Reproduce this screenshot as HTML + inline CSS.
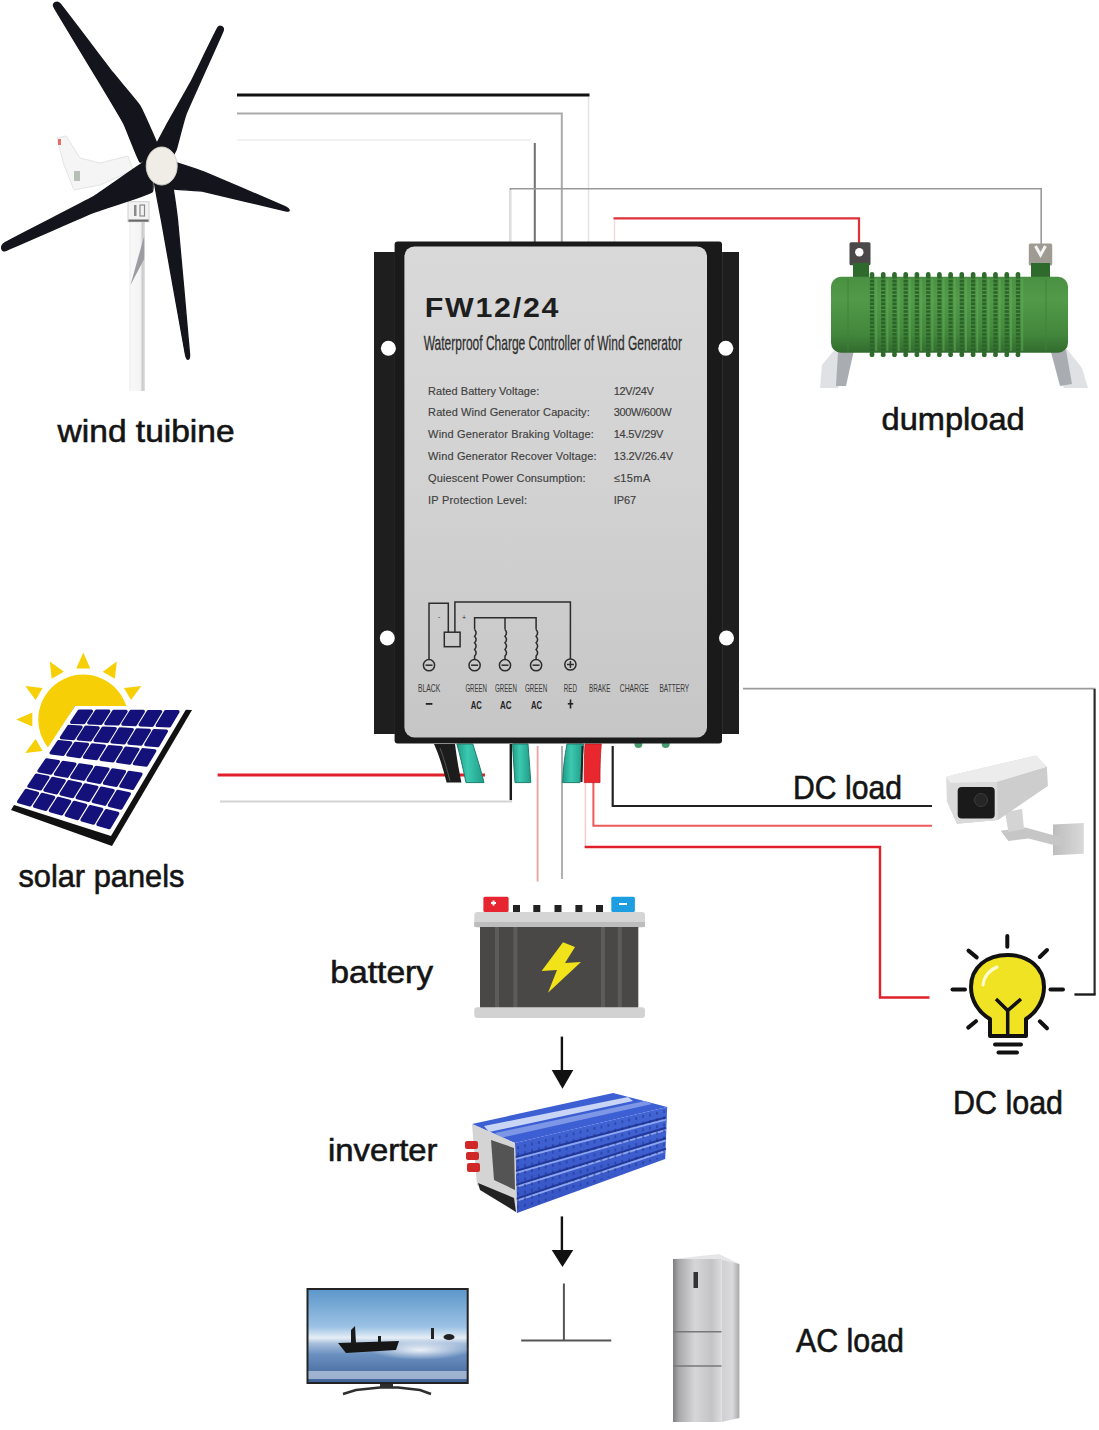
<!DOCTYPE html>
<html><head><meta charset="utf-8"><style>html,body{margin:0;padding:0;background:#fff;overflow:hidden;}svg{display:block}</style></head>
<body><svg width="1099" height="1430" viewBox="0 0 1099 1430">
<rect width="1099" height="1430" fill="#fff"/>
<line x1="237" y1="95" x2="589.5" y2="95" stroke="#111" stroke-width="2.8"/>
<line x1="588.5" y1="97" x2="588.5" y2="242" stroke="#e4e4e4" stroke-width="1.6"/>
<polyline points="237,113.6 561.8,113.6 561.8,242" fill="none" stroke="#aaa" stroke-width="2"/>
<line x1="237" y1="140" x2="531" y2="140" stroke="#ececec" stroke-width="1.6"/>
<line x1="534.8" y1="143" x2="534.8" y2="242" stroke="#707070" stroke-width="2"/>
<polyline points="510.4,242 510.4,188.8 1041.2,188.8 1041.2,250" fill="none" stroke="#999" stroke-width="1.6"/>
<line x1="510.4" y1="190" x2="510.4" y2="242" stroke="#e2e2e2" stroke-width="1.6"/>
<polyline points="613.5,218.4 859,218.4 859,250" fill="none" stroke="#e0303a" stroke-width="2.2"/>
<line x1="614.5" y1="220" x2="614.5" y2="242" stroke="#f4dada" stroke-width="1.4"/>
<polyline points="743,688.6 1094.6,688.6 1094.6,994.5 1074.5,994.5" fill="none" stroke="#9a9a9a" stroke-width="1.8"/>
<line x1="1094.6" y1="689" x2="1094.6" y2="994.5" stroke="#2a2a2a" stroke-width="2"/>
<line x1="1074.5" y1="994.5" x2="1095.6" y2="994.5" stroke="#1a1a1a" stroke-width="2.2"/>
<line x1="217.6" y1="775" x2="485" y2="775" stroke="#e0202a" stroke-width="3"/>
<polyline points="220,801.5 511,801.5 511,744" fill="none" stroke="#d4d4d4" stroke-width="2.2"/>
<line x1="510.8" y1="744" x2="510.8" y2="800" stroke="#1a1a1a" stroke-width="2.4"/>
<line x1="537.6" y1="746" x2="537.6" y2="881.5" stroke="#f0a0a0" stroke-width="1.8"/>
<line x1="562" y1="746" x2="562" y2="879" stroke="#a8a8a8" stroke-width="1.8"/>
<polyline points="612.7,746 612.7,806 932,806" fill="none" stroke="#222" stroke-width="2.2"/>
<polyline points="593.4,782 593.4,825.8 932,825.8" fill="none" stroke="#ee5a5a" stroke-width="2"/>
<line x1="585.4" y1="782" x2="585.4" y2="847" stroke="#f6caca" stroke-width="1.4"/>
<polyline points="584.7,847 880,847 880,997.5 929.5,997.5" fill="none" stroke="#e0202a" stroke-width="2.4"/>
<line x1="561.9" y1="1036.6" x2="561.9" y2="1072" stroke="#111" stroke-width="2.4"/>
<polygon points="551.7,1070 573.3,1070 562.5,1088.8" fill="#111"/>
<line x1="561.9" y1="1216.4" x2="561.9" y2="1251" stroke="#111" stroke-width="2.4"/>
<polygon points="551.7,1250 573.3,1250 562.5,1266.9" fill="#111"/>
<polyline points="563.9,1283.5 563.9,1340.6" fill="none" stroke="#555" stroke-width="2"/>
<line x1="521.2" y1="1340.6" x2="611.3" y2="1340.6" stroke="#555" stroke-width="2"/>
<defs><linearGradient id="tow" x1="0" y1="0" x2="1" y2="0"><stop offset="0" stop-color="#ececec"/><stop offset="0.15" stop-color="#f8f8f8"/><stop offset="0.7" stop-color="#f4f4f4"/><stop offset="0.85" stop-color="#c8c8c8"/><stop offset="1" stop-color="#e4e4e4"/></linearGradient></defs>
<rect x="129.4" y="220" width="15.6" height="171" fill="url(#tow)"/>
<polygon points="144.2,236 144.2,259 130.5,285" fill="#9c9ca2"/>
<rect x="128" y="201.7" width="21" height="20" fill="#f2f2f2" stroke="#cfcfcf" stroke-width="1"/>
<rect x="128.5" y="219.5" width="20" height="2.2" fill="#6a6a6a"/>
<rect x="134" y="205" width="2.5" height="11" fill="#8a8a8a"/><rect x="140" y="205" width="4.5" height="11" fill="none" stroke="#8a8a8a" stroke-width="1.2"/>
<polygon points="57,138 66,136 80,158 100,163 128,156 133,170 100,185 74,190 64,165" fill="#f5f5f5" stroke="#e4e4e4" stroke-width="1"/>
<rect x="58" y="139" width="3" height="6" fill="#e07070"/>
<rect x="74" y="171" width="6" height="10" fill="#7a8a7a" opacity="0.5"/>
<path d="M54.0,7.0 C55.9,10.8 94.5,74.2 98.0,80.0 C101.5,85.8 121.9,119.9 124.0,124.0 C126.1,128.1 138.2,160.6 140.0,162.0 C141.8,163.4 160.0,154.8 160.0,152.0 C160.0,149.2 142.4,110.0 140.0,106.0 C137.6,102.0 116.8,77.9 112.8,72.8 C108.8,67.7 62.9,7.1 60.0,3.8 C57.1,0.5 52.1,3.2 54.0,7.0Z" fill="#14141c" stroke="#14141c" stroke-width="1.4" stroke-linejoin="round"/>
<path d="M218.0,27.5 C216.4,30.0 193.5,77.1 191.0,81.9 C188.5,86.7 169.2,120.3 167.4,123.7 C165.6,127.1 154.1,147.9 154.0,150.0 C153.9,152.1 164.9,165.0 166.0,165.0 C167.1,165.0 175.0,152.6 176.0,150.0 C177.0,147.4 183.7,120.0 186.0,114.0 C188.3,108.0 221.4,35.3 223.0,31.0 C224.6,26.7 219.6,25.0 218.0,27.5Z" fill="#14141c" stroke="#14141c" stroke-width="1.4" stroke-linejoin="round"/>
<path d="M165.0,160.0 C166.8,159.2 198.3,169.8 204.3,172.2 C210.3,174.5 281.4,205.1 285.5,207.0 C289.6,208.9 290.6,211.8 286.5,211.0 C282.4,210.2 210.2,192.7 204.3,191.5 C198.4,190.3 170.0,189.6 168.0,188.0 C166.0,186.4 163.2,160.8 165.0,160.0Z" fill="#14141c" stroke="#14141c" stroke-width="1.4" stroke-linejoin="round"/>
<path d="M154.0,178.0 C153.5,180.1 159.9,211.6 161.5,220.4 C163.1,229.2 184.1,347.8 185.5,354.5 C186.9,361.2 189.9,360.7 189.5,354.0 C189.1,347.3 178.4,229.2 177.5,220.4 C176.6,211.6 172.2,180.1 171.0,178.0 C169.8,175.9 154.5,175.9 154.0,178.0Z" fill="#14141c" stroke="#14141c" stroke-width="1.4" stroke-linejoin="round"/>
<path d="M148.0,160.0 C145.0,160.3 100.0,193.0 92.8,197.2 C85.6,201.3 8.9,240.3 4.5,243.0 C0.1,245.7 1.1,252.0 5.5,250.5 C9.9,249.0 85.5,215.6 92.8,212.7 C100.1,209.8 149.2,194.6 152.0,192.0 C154.8,189.4 151.0,159.7 148.0,160.0Z" fill="#14141c" stroke="#14141c" stroke-width="1.4" stroke-linejoin="round"/>
<ellipse cx="161.7" cy="166" rx="15.5" ry="19" fill="#efede6" stroke="#d4d2ca" stroke-width="1"/>
<polygon points="131.0,700.1 141.3,686.0 124.0,687.9" fill="#f6cf06"/>
<polygon points="114.9,678.8 116.8,661.5 102.7,671.8" fill="#f6cf06"/>
<polygon points="90.3,668.5 83.3,652.5 76.3,668.5" fill="#f6cf06"/>
<polygon points="63.9,671.8 49.8,661.5 51.7,678.8" fill="#f6cf06"/>
<polygon points="42.6,687.9 25.3,686.0 35.6,700.1" fill="#f6cf06"/>
<polygon points="32.3,712.5 16.3,719.5 32.3,726.5" fill="#f6cf06"/>
<polygon points="35.6,738.9 25.3,753.0 42.6,751.1" fill="#f6cf06"/>
<circle cx="83.3" cy="719.5" r="45" fill="#f6cf06"/>
<circle cx="83.3" cy="719.5" r="48.5" fill="none" stroke="#fff" stroke-width="3" opacity="0"/>
<polygon points="75.0,706.0 192.0,710.0 112.0,846.0 11.0,810.0" fill="#111"/>
<polygon points="75.0,706.0 188.0,706.0 111.0,836.0 11.0,804.0" fill="#fff"/>
<polygon points="79.1,711.1 91.5,711.1 83.9,722.7 71.6,722.3" fill="#14127a" stroke="#14127a" stroke-width="3.2" stroke-linejoin="round"/>
<polygon points="96.4,711.2 108.8,711.2 101.0,723.4 88.7,722.9" fill="#14127a" stroke="#14127a" stroke-width="3.2" stroke-linejoin="round"/>
<polygon points="113.7,711.3 126.1,711.3 118.2,724.0 105.8,723.6" fill="#14127a" stroke="#14127a" stroke-width="3.2" stroke-linejoin="round"/>
<polygon points="131.0,711.4 143.4,711.4 135.3,724.7 122.9,724.2" fill="#14127a" stroke="#14127a" stroke-width="3.2" stroke-linejoin="round"/>
<polygon points="148.3,711.5 160.7,711.5 152.4,725.3 140.1,724.9" fill="#14127a" stroke="#14127a" stroke-width="3.2" stroke-linejoin="round"/>
<polygon points="165.6,711.6 178.0,711.6 169.5,726.0 157.2,725.5" fill="#14127a" stroke="#14127a" stroke-width="3.2" stroke-linejoin="round"/>
<polygon points="68.8,726.4 81.1,727.0 73.5,738.6 61.4,737.6" fill="#14127a" stroke="#14127a" stroke-width="3.2" stroke-linejoin="round"/>
<polygon points="85.9,727.2 98.2,727.8 90.4,740.0 78.2,739.0" fill="#14127a" stroke="#14127a" stroke-width="3.2" stroke-linejoin="round"/>
<polygon points="103.0,728.1 115.2,728.7 107.3,741.4 95.1,740.4" fill="#14127a" stroke="#14127a" stroke-width="3.2" stroke-linejoin="round"/>
<polygon points="120.0,728.9 132.3,729.5 124.2,742.8 112.0,741.8" fill="#14127a" stroke="#14127a" stroke-width="3.2" stroke-linejoin="round"/>
<polygon points="137.1,729.8 149.4,730.4 141.0,744.2 128.9,743.2" fill="#14127a" stroke="#14127a" stroke-width="3.2" stroke-linejoin="round"/>
<polygon points="154.1,730.6 166.4,731.2 157.9,745.6 145.8,744.6" fill="#14127a" stroke="#14127a" stroke-width="3.2" stroke-linejoin="round"/>
<polygon points="58.6,741.7 70.7,742.8 63.1,754.4 51.1,752.9" fill="#14127a" stroke="#14127a" stroke-width="3.2" stroke-linejoin="round"/>
<polygon points="75.4,743.3 87.5,744.4 79.8,756.6 67.8,755.0" fill="#14127a" stroke="#14127a" stroke-width="3.2" stroke-linejoin="round"/>
<polygon points="92.3,744.9 104.4,746.0 96.4,758.7 84.4,757.2" fill="#14127a" stroke="#14127a" stroke-width="3.2" stroke-linejoin="round"/>
<polygon points="109.1,746.5 121.2,747.6 113.0,760.9 101.1,759.3" fill="#14127a" stroke="#14127a" stroke-width="3.2" stroke-linejoin="round"/>
<polygon points="125.9,748.1 138.0,749.3 129.7,763.1 117.7,761.5" fill="#14127a" stroke="#14127a" stroke-width="3.2" stroke-linejoin="round"/>
<polygon points="142.7,749.7 154.8,750.9 146.3,765.2 134.3,763.7" fill="#14127a" stroke="#14127a" stroke-width="3.2" stroke-linejoin="round"/>
<polygon points="46.5,759.8 58.4,761.6 50.8,773.2 39.0,771.0" fill="#14127a" stroke="#14127a" stroke-width="3.2" stroke-linejoin="round"/>
<polygon points="63.0,762.3 74.9,764.1 67.1,776.3 55.4,774.1" fill="#14127a" stroke="#14127a" stroke-width="3.2" stroke-linejoin="round"/>
<polygon points="79.6,764.8 91.5,766.6 83.5,779.3 71.7,777.1" fill="#14127a" stroke="#14127a" stroke-width="3.2" stroke-linejoin="round"/>
<polygon points="96.1,767.3 108.0,769.1 99.8,782.4 88.1,780.2" fill="#14127a" stroke="#14127a" stroke-width="3.2" stroke-linejoin="round"/>
<polygon points="112.6,769.8 124.5,771.6 116.2,785.4 104.4,783.2" fill="#14127a" stroke="#14127a" stroke-width="3.2" stroke-linejoin="round"/>
<polygon points="129.1,772.3 141.0,774.1 132.6,788.5 120.8,786.3" fill="#14127a" stroke="#14127a" stroke-width="3.2" stroke-linejoin="round"/>
<polygon points="36.3,775.1 48.0,777.4 40.4,789.0 28.8,786.3" fill="#14127a" stroke="#14127a" stroke-width="3.2" stroke-linejoin="round"/>
<polygon points="52.6,778.4 64.3,780.7 56.5,792.9 44.9,790.1" fill="#14127a" stroke="#14127a" stroke-width="3.2" stroke-linejoin="round"/>
<polygon points="68.9,781.6 80.6,784.0 72.6,796.7 61.0,793.9" fill="#14127a" stroke="#14127a" stroke-width="3.2" stroke-linejoin="round"/>
<polygon points="85.1,784.9 96.9,787.2 88.7,800.5 77.1,797.7" fill="#14127a" stroke="#14127a" stroke-width="3.2" stroke-linejoin="round"/>
<polygon points="101.4,788.1 113.2,790.5 104.8,804.3 93.2,801.5" fill="#14127a" stroke="#14127a" stroke-width="3.2" stroke-linejoin="round"/>
<polygon points="117.7,791.4 129.4,793.7 120.9,808.1 109.3,805.4" fill="#14127a" stroke="#14127a" stroke-width="3.2" stroke-linejoin="round"/>
<polygon points="26.1,790.4 37.6,793.3 30.0,804.9 18.6,801.6" fill="#14127a" stroke="#14127a" stroke-width="3.2" stroke-linejoin="round"/>
<polygon points="42.1,794.4 53.7,797.3 45.9,809.5 34.5,806.2" fill="#14127a" stroke="#14127a" stroke-width="3.2" stroke-linejoin="round"/>
<polygon points="58.2,798.4 69.7,801.3 61.7,814.0 50.3,810.7" fill="#14127a" stroke="#14127a" stroke-width="3.2" stroke-linejoin="round"/>
<polygon points="74.2,802.4 85.7,805.3 77.6,818.6 66.2,815.3" fill="#14127a" stroke="#14127a" stroke-width="3.2" stroke-linejoin="round"/>
<polygon points="90.2,806.5 101.8,809.3 93.5,823.2 82.0,819.9" fill="#14127a" stroke="#14127a" stroke-width="3.2" stroke-linejoin="round"/>
<polygon points="106.3,810.5 117.8,813.4 109.3,827.7 97.9,824.4" fill="#14127a" stroke="#14127a" stroke-width="3.2" stroke-linejoin="round"/>
<defs><linearGradient id="plate" x1="0" y1="0" x2="0" y2="1"><stop offset="0" stop-color="#d9d9d9"/><stop offset="0.5" stop-color="#d2d2d2"/><stop offset="1" stop-color="#c6c6c6"/></linearGradient><linearGradient id="teal" x1="0" y1="0" x2="1" y2="0"><stop offset="0" stop-color="#1f9c88"/><stop offset="0.4" stop-color="#3cc9b0"/><stop offset="1" stop-color="#1f9c88"/></linearGradient></defs>
<path d="M434,744 L455,744 C457,760 459,770 461.4,782.6 L446.6,782.6 C443,768 439,755 434,744 Z" fill="#1c1c1c"/>
<path d="M440,748 C444,758 447,770 450,781" fill="none" stroke="#555" stroke-width="1"/>
<path d="M456.9,744 L472.8,744 C477,758 481,770 484,782.6 L466,782.6 C463,768 460,755 456.9,744 Z" fill="url(#teal)" stroke="#1d7e6c" stroke-width="1"/>
<path d="M512.6,744 L528,744 C529,758 530,770 530.8,782.6 L515,782.6 C514,768 513,755 512.6,744 Z" fill="url(#teal)" stroke="#1d7e6c" stroke-width="1"/>
<path d="M567,744 L583.5,744 C582,760 581,770 580,782.6 L562.6,782.6 C563,768 565,755 567,744 Z" fill="url(#teal)" stroke="#1d7e6c" stroke-width="1"/>
<path d="M585,744 L601.3,744 C600,760 600,770 600,782.6 L584.3,782.6 C584,768 584.5,755 585,744 Z" fill="#e8282e" stroke="#c01a20" stroke-width="0.8"/>
<line x1="582.5" y1="746" x2="581.5" y2="782" stroke="#222" stroke-width="2"/>
<circle cx="638.4" cy="744" r="4" fill="#4a9a70"/><circle cx="665.7" cy="744" r="4" fill="#4a9a70"/>
<rect x="374" y="252" width="24" height="482" fill="#1e1e1e"/>
<rect x="718" y="252" width="21" height="482" fill="#1e1e1e"/>
<line x1="395" y1="252" x2="395" y2="734" stroke="#3a3a3a" stroke-width="1"/>
<line x1="722" y1="252" x2="722" y2="734" stroke="#3a3a3a" stroke-width="1"/>
<rect x="394.6" y="241.6" width="327.4" height="502" rx="3" fill="#1a1a1a"/>
<rect x="404.4" y="246.4" width="302.6" height="491" rx="10" fill="url(#plate)"/>
<circle cx="388.4" cy="348.3" r="7.5" fill="#fff"/>
<circle cx="725.8" cy="348.3" r="7.5" fill="#fff"/>
<circle cx="387.3" cy="638" r="7.5" fill="#fff"/>
<circle cx="726.5" cy="638" r="7.5" fill="#fff"/>
<polyline points="429,660 429,603.2 448.3,603.2 448.3,632.2" stroke="#2c2c2c" stroke-width="1.5" fill="none"/>
<polyline points="454.9,632.2 454.9,602 570.4,602 570.4,659" stroke="#2c2c2c" stroke-width="1.5" fill="none"/>
<rect x="444.3" y="632.2" width="15.8" height="14.5" stroke="#2c2c2c" stroke-width="1.5" fill="none"/>
<polyline points="474.6,629.6 474.6,617.7 536.1,617.7 536.1,629.6" stroke="#2c2c2c" stroke-width="1.5" fill="none"/>
<line x1="505" y1="617.7" x2="505" y2="629.6" stroke="#2c2c2c" stroke-width="1.5" fill="none"/>
<path d="M474.6,629.6 q3,3.3 0,6.6 q3,3.3 0,6.6 q3,3.3 0,6.6 q3,3.3 0,6.6 L474.6,659.4" stroke="#2c2c2c" stroke-width="1.5" fill="none"/>
<path d="M505,629.6 q3,3.3 0,6.6 q3,3.3 0,6.6 q3,3.3 0,6.6 q3,3.3 0,6.6 L505,659.4" stroke="#2c2c2c" stroke-width="1.5" fill="none"/>
<path d="M536.1,629.6 q3,3.3 0,6.6 q3,3.3 0,6.6 q3,3.3 0,6.6 q3,3.3 0,6.6 L536.1,659.4" stroke="#2c2c2c" stroke-width="1.5" fill="none"/>
<circle cx="429" cy="665.2" r="5.6" stroke="#2c2c2c" stroke-width="1.5" fill="none"/>
<line x1="425.5" y1="665.2" x2="432.5" y2="665.2" stroke="#2c2c2c" stroke-width="1.5" fill="none"/>
<circle cx="474.6" cy="665.2" r="5.6" stroke="#2c2c2c" stroke-width="1.5" fill="none"/>
<line x1="471.1" y1="665.2" x2="478.1" y2="665.2" stroke="#2c2c2c" stroke-width="1.5" fill="none"/>
<circle cx="505" cy="665.2" r="5.6" stroke="#2c2c2c" stroke-width="1.5" fill="none"/>
<line x1="501.5" y1="665.2" x2="508.5" y2="665.2" stroke="#2c2c2c" stroke-width="1.5" fill="none"/>
<circle cx="536.1" cy="665.2" r="5.6" stroke="#2c2c2c" stroke-width="1.5" fill="none"/>
<line x1="532.6" y1="665.2" x2="539.6" y2="665.2" stroke="#2c2c2c" stroke-width="1.5" fill="none"/>
<circle cx="570.4" cy="664.5" r="5.6" stroke="#2c2c2c" stroke-width="1.5" fill="none"/>
<line x1="566.9" y1="664.5" x2="573.9" y2="664.5" stroke="#2c2c2c" stroke-width="1.5" fill="none"/>
<line x1="570.4" y1="661.0" x2="570.4" y2="668.0" stroke="#2c2c2c" stroke-width="1.5" fill="none"/>
<text x="438" y="619" font-size="7" fill="#333" font-family="Liberation Sans">-</text>
<text x="462" y="620" font-size="7" fill="#333" font-family="Liberation Sans">+</text>
<text x="418" y="691.6" font-family="Liberation Sans" font-size="10.5" font-weight="normal" fill="#3a3a3a" text-anchor="start" textLength="22.3" lengthAdjust="spacingAndGlyphs" >BLACK</text>
<text x="465.4" y="691.6" font-family="Liberation Sans" font-size="10.5" font-weight="normal" fill="#3a3a3a" text-anchor="start" textLength="21.6" lengthAdjust="spacingAndGlyphs" >GREEN</text>
<text x="495" y="691.6" font-family="Liberation Sans" font-size="10.5" font-weight="normal" fill="#3a3a3a" text-anchor="start" textLength="21.9" lengthAdjust="spacingAndGlyphs" >GREEN</text>
<text x="525" y="691.6" font-family="Liberation Sans" font-size="10.5" font-weight="normal" fill="#3a3a3a" text-anchor="start" textLength="22.2" lengthAdjust="spacingAndGlyphs" >GREEN</text>
<text x="563.8" y="691.6" font-family="Liberation Sans" font-size="10.5" font-weight="normal" fill="#3a3a3a" text-anchor="start" textLength="13.2" lengthAdjust="spacingAndGlyphs" >RED</text>
<text x="589" y="691.6" font-family="Liberation Sans" font-size="10.5" font-weight="normal" fill="#3a3a3a" text-anchor="start" textLength="21.5" lengthAdjust="spacingAndGlyphs" >BRAKE</text>
<text x="619.8" y="691.6" font-family="Liberation Sans" font-size="10.5" font-weight="normal" fill="#3a3a3a" text-anchor="start" textLength="29.0" lengthAdjust="spacingAndGlyphs" >CHARGE</text>
<text x="659.4" y="691.6" font-family="Liberation Sans" font-size="10.5" font-weight="normal" fill="#3a3a3a" text-anchor="start" textLength="29.8" lengthAdjust="spacingAndGlyphs" >BATTERY</text>
<text x="470.7" y="708.7" font-family="Liberation Sans" font-size="11.5" font-weight="bold" fill="#222" text-anchor="start" textLength="11.1" lengthAdjust="spacingAndGlyphs" >AC</text>
<text x="500" y="708.7" font-family="Liberation Sans" font-size="11.5" font-weight="bold" fill="#222" text-anchor="start" textLength="11.6" lengthAdjust="spacingAndGlyphs" >AC</text>
<text x="530.9" y="708.7" font-family="Liberation Sans" font-size="11.5" font-weight="bold" fill="#222" text-anchor="start" textLength="11.1" lengthAdjust="spacingAndGlyphs" >AC</text>
<rect x="425.8" y="703" width="6.6" height="1.8" fill="#222"/>
<rect x="567.8" y="703" width="5.4" height="1.6" fill="#222"/><rect x="569.7" y="699.5" width="1.6" height="9" fill="#222"/>
<text x="0" y="0" font-family="Liberation Sans" font-size="28" font-weight="bold" fill="#1e1e1e" letter-spacing="1.6" transform="translate(424.8,317.4) scale(1.085,1)">FW12/24</text>
<text x="423.7" y="350" font-family="Liberation Sans" font-size="21" font-weight="normal" fill="#2e2e2e" text-anchor="start" textLength="258.3" lengthAdjust="spacingAndGlyphs" stroke="#2e2e2e" stroke-width="0.3" >Waterproof Charge Controller of Wind Generator</text>
<text x="428.1" y="394.6" font-family="Liberation Sans" font-size="11" font-weight="normal" fill="#404040" text-anchor="start" textLength="111.1" lengthAdjust="spacing" stroke="#404040" stroke-width="0.15" >Rated Battery Voltage:</text>
<text x="613.7" y="394.6" font-family="Liberation Sans" font-size="11" font-weight="normal" fill="#404040" text-anchor="start" textLength="40.2" lengthAdjust="spacing" stroke="#404040" stroke-width="0.15" >12V/24V</text>
<text x="428.1" y="416.4" font-family="Liberation Sans" font-size="11" font-weight="normal" fill="#404040" text-anchor="start" textLength="161.6" lengthAdjust="spacing" stroke="#404040" stroke-width="0.15" >Rated Wind Generator Capacity:</text>
<text x="613.7" y="416.4" font-family="Liberation Sans" font-size="11" font-weight="normal" fill="#404040" text-anchor="start" textLength="57.9" lengthAdjust="spacing" stroke="#404040" stroke-width="0.15" >300W/600W</text>
<text x="428.1" y="438.3" font-family="Liberation Sans" font-size="11" font-weight="normal" fill="#404040" text-anchor="start" textLength="165.7" lengthAdjust="spacing" stroke="#404040" stroke-width="0.15" >Wind Generator Braking Voltage:</text>
<text x="613.7" y="438.3" font-family="Liberation Sans" font-size="11" font-weight="normal" fill="#404040" text-anchor="start" textLength="49.7" lengthAdjust="spacing" stroke="#404040" stroke-width="0.15" >14.5V/29V</text>
<text x="428.1" y="460.1" font-family="Liberation Sans" font-size="11" font-weight="normal" fill="#404040" text-anchor="start" textLength="168.4" lengthAdjust="spacing" stroke="#404040" stroke-width="0.15" >Wind Generator Recover Voltage:</text>
<text x="613.7" y="460.1" font-family="Liberation Sans" font-size="11" font-weight="normal" fill="#404040" text-anchor="start" textLength="59.3" lengthAdjust="spacing" stroke="#404040" stroke-width="0.15" >13.2V/26.4V</text>
<text x="428.1" y="482.0" font-family="Liberation Sans" font-size="11" font-weight="normal" fill="#404040" text-anchor="start" textLength="157.5" lengthAdjust="spacing" stroke="#404040" stroke-width="0.15" >Quiescent Power Consumption:</text>
<text x="613.7" y="482.0" font-family="Liberation Sans" font-size="11" font-weight="normal" fill="#404040" text-anchor="start" textLength="36.6" lengthAdjust="spacing" stroke="#404040" stroke-width="0.15" >≤15mA</text>
<text x="428.1" y="503.8" font-family="Liberation Sans" font-size="11" font-weight="normal" fill="#404040" text-anchor="start" textLength="98.9" lengthAdjust="spacing" stroke="#404040" stroke-width="0.15" >IP Protection Level:</text>
<text x="613.7" y="503.8" font-family="Liberation Sans" font-size="11" font-weight="normal" fill="#404040" text-anchor="start" textLength="22.4" lengthAdjust="spacing" stroke="#404040" stroke-width="0.15" >IP67</text>
<defs><linearGradient id="green" x1="0" y1="0" x2="0" y2="1"><stop offset="0" stop-color="#4a9042"/><stop offset="0.3" stop-color="#529a49"/><stop offset="0.75" stop-color="#43873c"/><stop offset="1" stop-color="#316b2e"/></linearGradient><linearGradient id="foot" x1="0" y1="0" x2="1" y2="0"><stop offset="0" stop-color="#e8eaec"/><stop offset="1" stop-color="#c4c7cb"/></linearGradient></defs>
<polygon points="822,365 836,348 852,348 846,372 838,388 820,388" fill="#dfe1e4"/>
<polygon points="838,352 854,350 846,386 836,386" fill="#a9acb0"/>
<polygon points="1050,348 1066,348 1082,368 1088,388 1064,388 1058,376" fill="#dfe1e4"/>
<polygon points="1051,352 1066,350 1072,384 1060,386" fill="#a9acb0"/>
<rect x="849.5" y="242.3" width="21" height="23" rx="1.5" fill="#4a4848"/>
<circle cx="859.3" cy="252.3" r="4.2" fill="#fff"/>
<rect x="1028.8" y="243.5" width="23.4" height="22" rx="1.5" fill="#9f9a92"/>
<path d="M1035.5,246 L1040.5,255 L1045.5,246" fill="none" stroke="#f4f4f4" stroke-width="3"/>
<rect x="853" y="263" width="16" height="15" fill="#2d6a2c"/><rect x="1031" y="263" width="19" height="15" fill="#2d6a2c"/>
<rect x="831" y="276.7" width="237" height="76.1" rx="10" fill="url(#green)"/>
<line x1="848" y1="279" x2="848" y2="351" stroke="#3f8339" stroke-width="1.5" opacity="0.6"/>
<line x1="1046" y1="279" x2="1046" y2="351" stroke="#3f8339" stroke-width="1.5" opacity="0.6"/>
<line x1="872.0" y1="276" x2="872.0" y2="353" stroke="#2b6328" stroke-width="4.2" stroke-dasharray="2.6 1.2"/>
<line x1="876.2" y1="279" x2="876.2" y2="351" stroke="#63ad59" stroke-width="2" opacity="0.55"/>
<ellipse cx="872.0" cy="275" rx="2.4" ry="3" fill="#2f6b2c"/><ellipse cx="872.0" cy="354.5" rx="2.4" ry="2.6" fill="#2f6b2c"/>
<line x1="883.2" y1="276" x2="883.2" y2="353" stroke="#2b6328" stroke-width="4.2" stroke-dasharray="2.6 1.2"/>
<line x1="887.4" y1="279" x2="887.4" y2="351" stroke="#63ad59" stroke-width="2" opacity="0.55"/>
<ellipse cx="883.2" cy="275" rx="2.4" ry="3" fill="#2f6b2c"/><ellipse cx="883.2" cy="354.5" rx="2.4" ry="2.6" fill="#2f6b2c"/>
<line x1="894.5" y1="276" x2="894.5" y2="353" stroke="#2b6328" stroke-width="4.2" stroke-dasharray="2.6 1.2"/>
<line x1="898.7" y1="279" x2="898.7" y2="351" stroke="#63ad59" stroke-width="2" opacity="0.55"/>
<ellipse cx="894.5" cy="275" rx="2.4" ry="3" fill="#2f6b2c"/><ellipse cx="894.5" cy="354.5" rx="2.4" ry="2.6" fill="#2f6b2c"/>
<line x1="905.7" y1="276" x2="905.7" y2="353" stroke="#2b6328" stroke-width="4.2" stroke-dasharray="2.6 1.2"/>
<line x1="909.9" y1="279" x2="909.9" y2="351" stroke="#63ad59" stroke-width="2" opacity="0.55"/>
<ellipse cx="905.7" cy="275" rx="2.4" ry="3" fill="#2f6b2c"/><ellipse cx="905.7" cy="354.5" rx="2.4" ry="2.6" fill="#2f6b2c"/>
<line x1="916.9" y1="276" x2="916.9" y2="353" stroke="#2b6328" stroke-width="4.2" stroke-dasharray="2.6 1.2"/>
<line x1="921.1" y1="279" x2="921.1" y2="351" stroke="#63ad59" stroke-width="2" opacity="0.55"/>
<ellipse cx="916.9" cy="275" rx="2.4" ry="3" fill="#2f6b2c"/><ellipse cx="916.9" cy="354.5" rx="2.4" ry="2.6" fill="#2f6b2c"/>
<line x1="928.2" y1="276" x2="928.2" y2="353" stroke="#2b6328" stroke-width="4.2" stroke-dasharray="2.6 1.2"/>
<line x1="932.4" y1="279" x2="932.4" y2="351" stroke="#63ad59" stroke-width="2" opacity="0.55"/>
<ellipse cx="928.2" cy="275" rx="2.4" ry="3" fill="#2f6b2c"/><ellipse cx="928.2" cy="354.5" rx="2.4" ry="2.6" fill="#2f6b2c"/>
<line x1="939.4" y1="276" x2="939.4" y2="353" stroke="#2b6328" stroke-width="4.2" stroke-dasharray="2.6 1.2"/>
<line x1="943.6" y1="279" x2="943.6" y2="351" stroke="#63ad59" stroke-width="2" opacity="0.55"/>
<ellipse cx="939.4" cy="275" rx="2.4" ry="3" fill="#2f6b2c"/><ellipse cx="939.4" cy="354.5" rx="2.4" ry="2.6" fill="#2f6b2c"/>
<line x1="950.6" y1="276" x2="950.6" y2="353" stroke="#2b6328" stroke-width="4.2" stroke-dasharray="2.6 1.2"/>
<line x1="954.8" y1="279" x2="954.8" y2="351" stroke="#63ad59" stroke-width="2" opacity="0.55"/>
<ellipse cx="950.6" cy="275" rx="2.4" ry="3" fill="#2f6b2c"/><ellipse cx="950.6" cy="354.5" rx="2.4" ry="2.6" fill="#2f6b2c"/>
<line x1="961.8" y1="276" x2="961.8" y2="353" stroke="#2b6328" stroke-width="4.2" stroke-dasharray="2.6 1.2"/>
<line x1="966.0" y1="279" x2="966.0" y2="351" stroke="#63ad59" stroke-width="2" opacity="0.55"/>
<ellipse cx="961.8" cy="275" rx="2.4" ry="3" fill="#2f6b2c"/><ellipse cx="961.8" cy="354.5" rx="2.4" ry="2.6" fill="#2f6b2c"/>
<line x1="973.1" y1="276" x2="973.1" y2="353" stroke="#2b6328" stroke-width="4.2" stroke-dasharray="2.6 1.2"/>
<line x1="977.3" y1="279" x2="977.3" y2="351" stroke="#63ad59" stroke-width="2" opacity="0.55"/>
<ellipse cx="973.1" cy="275" rx="2.4" ry="3" fill="#2f6b2c"/><ellipse cx="973.1" cy="354.5" rx="2.4" ry="2.6" fill="#2f6b2c"/>
<line x1="984.3" y1="276" x2="984.3" y2="353" stroke="#2b6328" stroke-width="4.2" stroke-dasharray="2.6 1.2"/>
<line x1="988.5" y1="279" x2="988.5" y2="351" stroke="#63ad59" stroke-width="2" opacity="0.55"/>
<ellipse cx="984.3" cy="275" rx="2.4" ry="3" fill="#2f6b2c"/><ellipse cx="984.3" cy="354.5" rx="2.4" ry="2.6" fill="#2f6b2c"/>
<line x1="995.5" y1="276" x2="995.5" y2="353" stroke="#2b6328" stroke-width="4.2" stroke-dasharray="2.6 1.2"/>
<line x1="999.7" y1="279" x2="999.7" y2="351" stroke="#63ad59" stroke-width="2" opacity="0.55"/>
<ellipse cx="995.5" cy="275" rx="2.4" ry="3" fill="#2f6b2c"/><ellipse cx="995.5" cy="354.5" rx="2.4" ry="2.6" fill="#2f6b2c"/>
<line x1="1006.8" y1="276" x2="1006.8" y2="353" stroke="#2b6328" stroke-width="4.2" stroke-dasharray="2.6 1.2"/>
<line x1="1011.0" y1="279" x2="1011.0" y2="351" stroke="#63ad59" stroke-width="2" opacity="0.55"/>
<ellipse cx="1006.8" cy="275" rx="2.4" ry="3" fill="#2f6b2c"/><ellipse cx="1006.8" cy="354.5" rx="2.4" ry="2.6" fill="#2f6b2c"/>
<line x1="1018.0" y1="276" x2="1018.0" y2="353" stroke="#2b6328" stroke-width="4.2" stroke-dasharray="2.6 1.2"/>
<line x1="1022.2" y1="279" x2="1022.2" y2="351" stroke="#63ad59" stroke-width="2" opacity="0.55"/>
<ellipse cx="1018.0" cy="275" rx="2.4" ry="3" fill="#2f6b2c"/><ellipse cx="1018.0" cy="354.5" rx="2.4" ry="2.6" fill="#2f6b2c"/>
<defs><linearGradient id="camg" x1="0" y1="0" x2="1" y2="1"><stop offset="0" stop-color="#e2e2e2"/><stop offset="1" stop-color="#c8c8c8"/></linearGradient><linearGradient id="plateg" x1="0" y1="0" x2="1" y2="0"><stop offset="0" stop-color="#bdbdbd"/><stop offset="1" stop-color="#d9d9d9"/></linearGradient></defs>
<polygon points="1053,824.6 1083.8,823 1083.8,853.8 1053,855.3" fill="url(#plateg)"/>
<polygon points="1000.7,830.7 1025.3,827.6 1065.3,838.4 1063.8,847.6 1028.4,838.4 1008.4,841" fill="#c6c6c6"/>
<polygon points="1005,812 1022,809 1024,829 1008.4,832" fill="#d4d4d4"/>
<polygon points="946.1,776.9 954.6,774.6 1036.1,755.4 1046.9,766.9 1047.6,786.1 997.7,820 956.9,823.8 946.9,801.5" fill="url(#camg)"/>
<polygon points="946.1,776.9 954.6,774.6 1036.1,755.4 1046.9,766.9 997,782 951,783" fill="#ececec"/>
<polygon points="997,782 1046.9,766.9 1047.6,786.1 997.7,820" fill="#cdcdcd"/>
<polygon points="950,783 997,782 997.7,820 956.9,823.8 948,802" fill="#dadada"/>
<rect x="957.7" y="787" width="37" height="31.4" rx="4" fill="#1a1a1a"/>
<circle cx="981" cy="800" r="6.5" fill="#262626" stroke="#3c3c3c" stroke-width="1"/>
<line x1="1007.3" y1="936" x2="1007.3" y2="946.8" stroke="#111" stroke-width="4" stroke-linecap="round"/>
<line x1="952.5" y1="989.4" x2="965" y2="989.4" stroke="#111" stroke-width="4" stroke-linecap="round"/>
<line x1="1050.5" y1="989.4" x2="1063" y2="989.4" stroke="#111" stroke-width="4" stroke-linecap="round"/>
<line x1="968.5" y1="950.6" x2="976.7" y2="957.4" stroke="#111" stroke-width="4" stroke-linecap="round"/>
<line x1="1039.8" y1="957" x2="1047" y2="950" stroke="#111" stroke-width="4" stroke-linecap="round"/>
<line x1="968.2" y1="1027.6" x2="976" y2="1021.2" stroke="#111" stroke-width="4" stroke-linecap="round"/>
<line x1="1039.8" y1="1021.3" x2="1047" y2="1028.3" stroke="#111" stroke-width="4" stroke-linecap="round"/>
<path d="M990,1036 L990,1019 C978,1012 971,1000 971,987 C971,967 987,955 1007.7,955 C1028,955 1044,967 1044,987 C1044,1000 1037,1012 1026,1019 L1026,1036 Z" fill="#f0e324" stroke="#111" stroke-width="4" stroke-linejoin="round"/>
<path d="M996,999 L1007.7,1010.5 L1021,999 M1007.7,1010.5 L1007.7,1036" fill="none" stroke="#111" stroke-width="3.5"/>
<path d="M983,985 C984,976 990,970 997,967" fill="none" stroke="#fffbd0" stroke-width="3" stroke-linecap="round"/>
<line x1="995" y1="1044.4" x2="1021" y2="1044.4" stroke="#111" stroke-width="4" stroke-linecap="round"/>
<line x1="998.5" y1="1052.4" x2="1017" y2="1052.4" stroke="#111" stroke-width="4" stroke-linecap="round"/>
<rect x="483.4" y="896.8" width="25.2" height="15.2" rx="1.5" fill="#e62530"/>
<rect x="611.3" y="896.8" width="23.6" height="15.2" rx="1.5" fill="#1c9ee0"/>
<rect x="491" y="902" width="5" height="2" fill="#fff"/><rect x="492.5" y="900.5" width="2" height="5" fill="#fff"/>
<rect x="619" y="903" width="8" height="2" fill="#fff"/>
<rect x="513" y="905" width="7" height="7" fill="#222"/>
<rect x="533.3" y="905" width="7" height="7" fill="#222"/>
<rect x="554.5" y="905" width="7" height="7" fill="#222"/>
<rect x="575.4" y="905" width="7" height="7" fill="#222"/>
<rect x="596" y="905" width="7" height="7" fill="#222"/>
<rect x="474.3" y="912" width="170.7" height="15.5" rx="3" fill="#d5d5d5"/>
<rect x="474.3" y="922" width="170.7" height="5" fill="#bdbdbd"/>
<rect x="480" y="927" width="158.3" height="81" fill="#4a4747"/>
<rect x="495" y="927" width="4" height="81" fill="#5e5b5b"/>
<rect x="513.4" y="927" width="4" height="81" fill="#5e5b5b"/>
<rect x="601" y="927" width="4" height="81" fill="#5e5b5b"/>
<rect x="617.8" y="927" width="4" height="81" fill="#5e5b5b"/>
<rect x="474.3" y="1007.3" width="170.7" height="10.7" rx="3" fill="#d2d2d2"/>
<polygon points="563,942.3 541.6,971 557,970 548,992.8 581,962 565,963 575,947" fill="#f2e21a"/>
<defs><linearGradient id="invside" x1="0" y1="0" x2="0" y2="1"><stop offset="0" stop-color="#4265d6"/><stop offset="1" stop-color="#3654c4"/></linearGradient></defs>
<polygon points="472.0,1124.0 613.2,1093.0 667.2,1107.0 515.0,1143.0" fill="#3d5fd4"/>
<polygon points="484,1126 628,1097 633,1101 489,1132" fill="#c9d5f5"/>
<polygon points="495,1133 645,1101 652,1104 500,1138" fill="#7d97e6"/>
<polygon points="515.0,1143.0 667.2,1107.0 665.2,1159.0 517.0,1213.0" fill="url(#invside)"/>
<line x1="515.5" y1="1157.0" x2="666" y2="1117.4" stroke="#23399a" stroke-width="2"/>
<line x1="515.5" y1="1159.2" x2="666" y2="1119.6" stroke="#8ea6ee" stroke-width="1.8"/>
<line x1="515.5" y1="1171.0" x2="666" y2="1127.8" stroke="#23399a" stroke-width="2"/>
<line x1="515.5" y1="1173.2" x2="666" y2="1130.0" stroke="#8ea6ee" stroke-width="1.8"/>
<line x1="515.5" y1="1185.0" x2="666" y2="1138.2" stroke="#23399a" stroke-width="2"/>
<line x1="515.5" y1="1187.2" x2="666" y2="1140.4" stroke="#8ea6ee" stroke-width="1.8"/>
<line x1="515.5" y1="1199.0" x2="666" y2="1148.6" stroke="#23399a" stroke-width="2"/>
<line x1="515.5" y1="1201.2" x2="666" y2="1150.8" stroke="#8ea6ee" stroke-width="1.8"/>
<line x1="518.0" y1="1146.0" x2="518.0" y2="1211.0" stroke="#1c2f80" stroke-width="1.8" stroke-dasharray="3 3.6" opacity="0.45"/>
<line x1="525.0" y1="1144.3" x2="525.0" y2="1208.4" stroke="#1c2f80" stroke-width="1.8" stroke-dasharray="3 3.6" opacity="0.45"/>
<line x1="531.9" y1="1142.6" x2="531.9" y2="1205.9" stroke="#1c2f80" stroke-width="1.8" stroke-dasharray="3 3.6" opacity="0.45"/>
<line x1="538.9" y1="1140.9" x2="538.9" y2="1203.3" stroke="#1c2f80" stroke-width="1.8" stroke-dasharray="3 3.6" opacity="0.45"/>
<line x1="545.8" y1="1139.1" x2="545.8" y2="1200.7" stroke="#1c2f80" stroke-width="1.8" stroke-dasharray="3 3.6" opacity="0.45"/>
<line x1="552.8" y1="1137.4" x2="552.8" y2="1198.1" stroke="#1c2f80" stroke-width="1.8" stroke-dasharray="3 3.6" opacity="0.45"/>
<line x1="559.7" y1="1135.7" x2="559.7" y2="1195.6" stroke="#1c2f80" stroke-width="1.8" stroke-dasharray="3 3.6" opacity="0.45"/>
<line x1="566.7" y1="1134.0" x2="566.7" y2="1193.0" stroke="#1c2f80" stroke-width="1.8" stroke-dasharray="3 3.6" opacity="0.45"/>
<line x1="573.6" y1="1132.3" x2="573.6" y2="1190.4" stroke="#1c2f80" stroke-width="1.8" stroke-dasharray="3 3.6" opacity="0.45"/>
<line x1="580.6" y1="1130.6" x2="580.6" y2="1187.9" stroke="#1c2f80" stroke-width="1.8" stroke-dasharray="3 3.6" opacity="0.45"/>
<line x1="587.5" y1="1128.9" x2="587.5" y2="1185.3" stroke="#1c2f80" stroke-width="1.8" stroke-dasharray="3 3.6" opacity="0.45"/>
<line x1="594.5" y1="1127.1" x2="594.5" y2="1182.7" stroke="#1c2f80" stroke-width="1.8" stroke-dasharray="3 3.6" opacity="0.45"/>
<line x1="601.4" y1="1125.4" x2="601.4" y2="1180.1" stroke="#1c2f80" stroke-width="1.8" stroke-dasharray="3 3.6" opacity="0.45"/>
<line x1="608.4" y1="1123.7" x2="608.4" y2="1177.6" stroke="#1c2f80" stroke-width="1.8" stroke-dasharray="3 3.6" opacity="0.45"/>
<line x1="615.3" y1="1122.0" x2="615.3" y2="1175.0" stroke="#1c2f80" stroke-width="1.8" stroke-dasharray="3 3.6" opacity="0.45"/>
<line x1="622.3" y1="1120.3" x2="622.3" y2="1172.4" stroke="#1c2f80" stroke-width="1.8" stroke-dasharray="3 3.6" opacity="0.45"/>
<line x1="629.2" y1="1118.6" x2="629.2" y2="1169.9" stroke="#1c2f80" stroke-width="1.8" stroke-dasharray="3 3.6" opacity="0.45"/>
<line x1="636.2" y1="1116.9" x2="636.2" y2="1167.3" stroke="#1c2f80" stroke-width="1.8" stroke-dasharray="3 3.6" opacity="0.45"/>
<line x1="643.1" y1="1115.1" x2="643.1" y2="1164.7" stroke="#1c2f80" stroke-width="1.8" stroke-dasharray="3 3.6" opacity="0.45"/>
<line x1="650.1" y1="1113.4" x2="650.1" y2="1162.1" stroke="#1c2f80" stroke-width="1.8" stroke-dasharray="3 3.6" opacity="0.45"/>
<line x1="657.0" y1="1111.7" x2="657.0" y2="1159.6" stroke="#1c2f80" stroke-width="1.8" stroke-dasharray="3 3.6" opacity="0.45"/>
<line x1="664.0" y1="1110.0" x2="664.0" y2="1157.0" stroke="#1c2f80" stroke-width="1.8" stroke-dasharray="3 3.6" opacity="0.45"/>
<polygon points="472.0,1124.0 515.0,1143.0 517.0,1213.0 477.0,1185.0" fill="#d4d4d4"/>
<polygon points="491,1140 514,1148 515,1190 494,1180" fill="#2a2a2a" opacity="0.75"/>
<polygon points="478,1183 514,1198 516,1212 480,1190" fill="#222"/>
<rect x="465" y="1141" width="13" height="8" rx="2" fill="#d02828"/><rect x="466" y="1152" width="13" height="8" rx="2" fill="#d02828"/><rect x="467" y="1163" width="13" height="9" rx="2" fill="#d02828"/>
<defs><linearGradient id="sky" x1="0" y1="0" x2="0" y2="1"><stop offset="0" stop-color="#5e97cb"/><stop offset="0.4" stop-color="#9cc2e4"/><stop offset="0.52" stop-color="#e6eef6"/><stop offset="0.58" stop-color="#a9c0dc"/><stop offset="0.7" stop-color="#6a90c0"/><stop offset="1" stop-color="#3f6298"/></linearGradient><radialGradient id="glare" cx="0.5" cy="0.5" r="0.5"><stop offset="0" stop-color="#ffffff" stop-opacity="0.85"/><stop offset="1" stop-color="#ffffff" stop-opacity="0"/></radialGradient></defs>
<rect x="306.5" y="1288" width="162.2" height="96" fill="#232323"/>
<rect x="308.5" y="1290" width="158.2" height="92" fill="url(#sky)"/>
<ellipse cx="420" cy="1350" rx="50" ry="10" fill="url(#glare)"/>
<rect x="308.5" y="1371" width="158" height="8" fill="#c2d0e2" opacity="0.7"/>
<path d="M338,1343 L399,1341 L396,1350 L346,1353 Z" fill="#161616"/>
<path d="M351,1330 L355,1326 L356,1343 L351,1343 Z" fill="#1a1a1a"/><rect x="378" y="1336" width="3" height="7" fill="#1a1a1a"/><rect x="431" y="1328" width="3" height="11" fill="#222"/><ellipse cx="449" cy="1337" rx="5.5" ry="3" fill="#222"/>
<path d="M343,1394 L356,1390 L380,1387.5 L398,1387.5 L420,1390 L431,1394" fill="none" stroke="#2e2e2e" stroke-width="2.4"/>
<rect x="380" y="1384" width="13" height="4" fill="#2e2e2e"/>
<defs><linearGradient id="frf" x1="0" y1="0" x2="1" y2="0"><stop offset="0" stop-color="#7e7e80"/><stop offset="0.12" stop-color="#a8a8aa"/><stop offset="0.45" stop-color="#d6d6d8"/><stop offset="0.8" stop-color="#c4c4c6"/><stop offset="1" stop-color="#dcdcde"/></linearGradient><linearGradient id="frs" x1="0" y1="0" x2="1" y2="0"><stop offset="0" stop-color="#cfcfd1"/><stop offset="0.6" stop-color="#dadadc"/><stop offset="1" stop-color="#a9a9ab"/></linearGradient></defs>
<polygon points="721.5,1257 739.4,1264 739.4,1418 721.5,1422" fill="url(#frs)"/>
<polygon points="673,1259 719,1254 739.4,1264 721.5,1260" fill="#e6e6e8"/>
<rect x="673" y="1259" width="48.5" height="163" fill="url(#frf)"/>
<line x1="673" y1="1331.7" x2="721.5" y2="1331.7" stroke="#777" stroke-width="1.5"/>
<line x1="673" y1="1366" x2="721.5" y2="1366" stroke="#777" stroke-width="1.5"/>
<rect x="693.5" y="1272" width="4.5" height="16" fill="#333"/>
<text x="57.6" y="442.4" font-family="Liberation Sans" font-size="32" font-weight="normal" fill="#141414" text-anchor="start" textLength="177" lengthAdjust="spacingAndGlyphs" stroke="#141414" stroke-width="0.6" >wind tuibine</text>
<text x="881.6" y="429.8" font-family="Liberation Sans" font-size="31" font-weight="normal" fill="#141414" text-anchor="start" textLength="143" lengthAdjust="spacingAndGlyphs" stroke="#141414" stroke-width="0.6" >dumpload</text>
<text x="18.4" y="887" font-family="Liberation Sans" font-size="32" font-weight="normal" fill="#141414" text-anchor="start" textLength="166" lengthAdjust="spacingAndGlyphs" stroke="#141414" stroke-width="0.6" >solar panels</text>
<text x="330.2" y="982.5" font-family="Liberation Sans" font-size="32" font-weight="normal" fill="#141414" text-anchor="start" textLength="103" lengthAdjust="spacingAndGlyphs" stroke="#141414" stroke-width="0.6" >battery</text>
<text x="328" y="1161.2" font-family="Liberation Sans" font-size="32" font-weight="normal" fill="#141414" text-anchor="start" textLength="109.5" lengthAdjust="spacingAndGlyphs" stroke="#141414" stroke-width="0.6" >inverter</text>
<text x="793" y="798.6" font-family="Liberation Sans" font-size="33" font-weight="normal" fill="#141414" text-anchor="start" textLength="109" lengthAdjust="spacingAndGlyphs" stroke="#141414" stroke-width="0.6" >DC load</text>
<text x="953" y="1114" font-family="Liberation Sans" font-size="33" font-weight="normal" fill="#141414" text-anchor="start" textLength="110" lengthAdjust="spacingAndGlyphs" stroke="#141414" stroke-width="0.6" >DC load</text>
<text x="796" y="1352.4" font-family="Liberation Sans" font-size="33" font-weight="normal" fill="#141414" text-anchor="start" textLength="108" lengthAdjust="spacingAndGlyphs" stroke="#141414" stroke-width="0.6" >AC load</text>
</svg></body></html>
